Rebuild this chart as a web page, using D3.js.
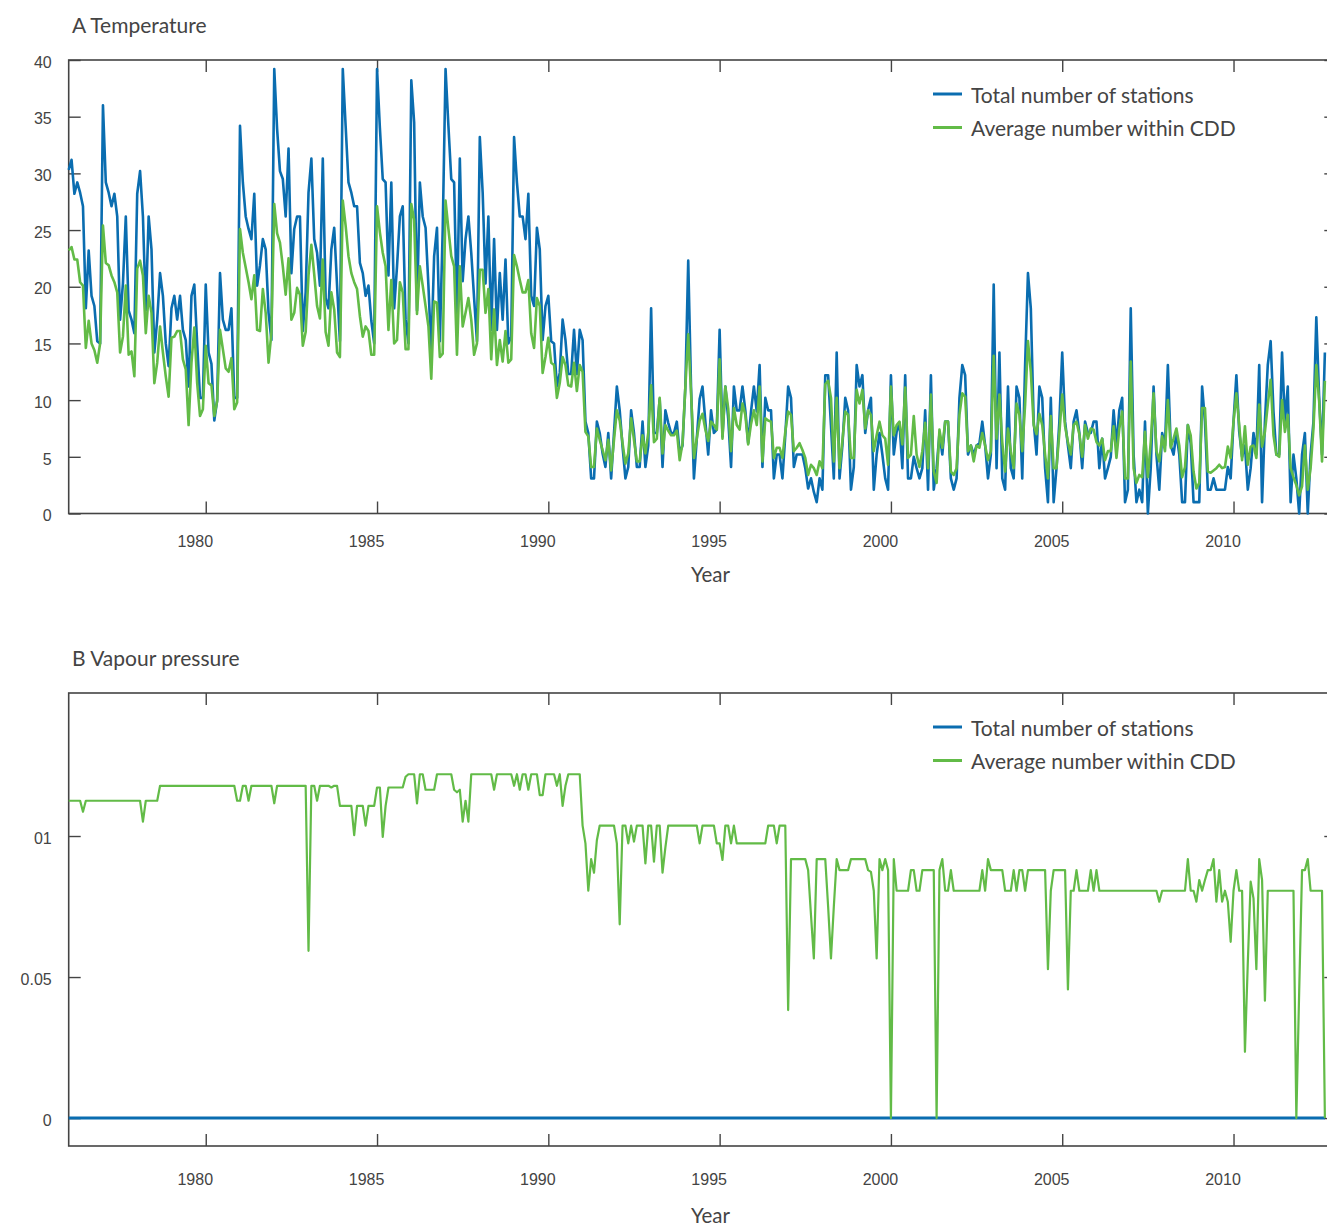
<!DOCTYPE html>
<html>
<head>
<meta charset="utf-8">
<script src="https://cdn.jsdelivr.net/npm/d3@7"></script>
<style>
  body { margin: 0; background: #fff; }
  svg { display: block; font-family: Lato, "Open Sans", sans-serif; }
  .tick text { font-size: 16px; fill: #444; }
  .panel-title, .legend-text { font-size: 21px; fill: #444; }
  .axis-label { font-size: 20.5px; fill: #444; }
</style>
</head>
<body>
<div id="chart"></div>
<script>
// Monthly values, starting January 1976
const firstYear = 1976;
const yearTicks = [1980, 1985, 1990, 1995, 2000, 2005, 2010];
const tempTicks = [0, 5, 10, 15, 20, 25, 30, 35, 40];
const tempTickLabels = ['0', '5', '10', '15', '20', '25', '30', '35', '40'];
const vapourTicks = [0, 0.05, 0.1];
const vapourTickLabels = ['0', '0.05', '01'];
const seriesNames = ['Total number of stations', 'Average number within CDD'];
const seriesColors = ['#0a6db0', '#62bb47'];

// A Temperature - one row per year
const tempStations = [
  30.3, 31.2, 28.2, 29.2, 28.3, 27.1, 18.1, 23.2, 19.2, 18.3, 15.2, 15.0,
  36.0, 29.2, 28.3, 27.1, 28.2, 26.2, 17.1, 20.3, 26.2, 17.9, 17.1, 15.9,
  28.2, 30.2, 26.2, 17.9, 26.2, 23.3, 14.2, 17.1, 21.2, 19.2, 15.0, 13.0,
  18.1, 19.2, 17.1, 19.2, 16.2, 15.3, 11.2, 19.2, 20.2, 15.0, 10.2, 10.2,
  20.2, 14.2, 13.2, 8.2, 10.0, 21.2, 17.1, 16.2, 16.2, 18.1, 10.2, 10.2,
  34.2, 29.2, 26.2, 25.1, 24.2, 28.2, 20.1, 21.9, 24.2, 23.3, 17.7, 15.3,
  39.2, 33.9, 30.2, 29.5, 26.2, 32.2, 21.2, 25.1, 26.2, 26.2, 16.1, 19.5,
  28.3, 31.3, 24.2, 23.0, 20.1, 31.3, 19.0, 18.1, 23.3, 25.2, 20.1, 15.2,
  39.2, 34.2, 29.2, 28.3, 27.1, 27.1, 22.1, 21.2, 19.2, 20.1, 17.0, 15.0,
  39.2, 34.0, 29.5, 29.2, 21.0, 29.2, 18.1, 21.8, 26.2, 27.1, 17.1, 15.0,
  38.2, 34.5, 17.9, 29.2, 26.2, 25.2, 20.1, 14.2, 22.7, 25.2, 15.2, 25.0,
  39.2, 34.2, 29.5, 29.2, 17.5, 31.3, 20.5, 24.2, 26.2, 23.0, 19.0, 15.2,
  33.2, 28.3, 20.3, 26.2, 16.2, 24.2, 16.2, 21.2, 17.1, 22.4, 15.0, 15.6,
  33.2, 29.2, 26.2, 26.2, 24.2, 28.2, 19.2, 18.3, 25.2, 23.3, 15.3, 18.3,
  19.2, 15.2, 15.0, 11.2, 12.4, 17.1, 15.3, 12.3, 12.3, 16.2, 12.3, 16.2,
  15.3, 8.1, 7.1, 3.1, 3.1, 8.1, 7.1, 5.3, 4.1, 7.1, 3.1, 7.1,
  11.2, 9.1, 5.9, 3.1, 4.1, 9.1, 7.1, 4.1, 4.1, 8.1, 4.1, 6.0,
  18.1, 7.1, 7.1, 10.1, 4.1, 9.1, 8.0, 7.1, 7.1, 8.1, 5.3, 6.0,
  11.2, 22.3, 11.0, 3.1, 6.6, 10.1, 11.2, 8.1, 5.2, 9.1, 7.1, 7.4,
  16.2, 6.8, 11.2, 8.4, 4.1, 11.2, 9.1, 9.1, 11.2, 9.1, 6.2, 9.0,
  11.2, 9.0, 13.1, 4.1, 10.2, 9.1, 9.1, 3.1, 5.2, 5.2, 3.1, 6.9,
  11.2, 10.2, 4.1, 5.2, 5.2, 5.2, 4.0, 2.2, 3.1, 1.9, 1.0, 3.1,
  2.1, 12.2, 12.2, 7.8, 3.1, 14.2, 3.1, 6.0, 10.2, 9.1, 2.1, 4.1,
  13.1, 11.2, 12.2, 7.1, 9.1, 10.2, 2.1, 5.2, 7.1, 5.2, 3.1, 2.1,
  12.2, 5.2, 7.2, 8.0, 4.0, 12.2, 3.1, 3.1, 5.0, 4.0, 3.1, 4.0,
  9.1, 2.1, 12.2, 2.1, 4.0, 7.1, 5.2, 8.1, 8.1, 3.1, 2.1, 3.1,
  10.2, 13.1, 12.2, 5.2, 6.0, 5.2, 6.0, 6.2, 8.1, 6.0, 3.1, 5.2,
  20.2, 4.0, 14.2, 3.1, 2.1, 11.2, 4.0, 3.1, 11.2, 10.2, 3.1, 13.1,
  21.2, 18.1, 8.1, 5.2, 11.2, 10.2, 4.0, 1.0, 10.2, 1.0, 4.0, 8.1,
  14.2, 8.1, 6.0, 4.0, 8.1, 9.1, 7.1, 4.0, 8.1, 7.1, 7.1, 8.1,
  8.1, 4.0, 6.6, 3.1, 4.0, 5.0, 9.1, 6.0, 9.1, 10.2, 1.0, 2.1,
  18.1, 5.2, 1.0, 2.1, 1.0, 8.1, 0.0, 4.0, 11.2, 5.2, 2.1, 7.1,
  6.0, 13.1, 6.0, 5.2, 7.1, 5.2, 1.0, 1.0, 7.8, 6.2, 1.0, 1.0,
  1.0, 11.2, 8.1, 2.1, 2.1, 3.1, 2.1, 2.1, 2.1, 2.1, 4.1, 3.1,
  8.1, 12.2, 7.2, 5.0, 6.0, 2.1, 4.0, 7.1, 5.2, 13.1, 1.0, 8.1,
  13.1, 15.2, 9.0, 5.2, 5.2, 14.2, 8.1, 11.2, 1.0, 5.2, 3.1, 0.0,
  5.2, 7.1, 0.0, 5.2, 8.1, 17.3, 10.2, 5.2, 14.2
];

const tempCdd = [
  23.2, 23.5, 22.4, 22.4, 20.4, 20.1, 14.6, 17.0, 15.0, 14.4, 13.3, 15.0,
  25.4, 22.1, 21.9, 21.0, 20.4, 19.5, 14.2, 15.6, 20.1, 14.0, 14.3, 12.1,
  21.6, 22.3, 21.0, 15.9, 19.2, 17.7, 11.5, 13.3, 16.5, 14.2, 12.1, 10.3,
  15.5, 15.6, 16.1, 16.1, 13.6, 12.7, 7.8, 13.3, 16.4, 11.5, 8.6, 9.2,
  14.8, 11.5, 11.3, 8.6, 9.9, 16.2, 14.5, 12.8, 12.5, 13.7, 9.2, 9.8,
  25.1, 23.0, 21.7, 20.4, 18.9, 21.0, 16.2, 16.1, 19.8, 17.7, 13.3, 15.9,
  27.3, 24.7, 23.9, 21.8, 19.3, 22.5, 17.1, 17.7, 19.9, 19.3, 14.8, 16.0,
  21.0, 23.7, 21.1, 18.3, 17.2, 22.4, 16.0, 14.8, 19.5, 18.0, 14.2, 13.8,
  27.6, 25.4, 22.7, 21.2, 20.4, 19.8, 17.4, 15.6, 16.5, 16.1, 14.0, 14.0,
  27.1, 24.8, 23.0, 21.8, 16.2, 20.6, 15.0, 15.3, 20.4, 19.5, 14.5, 14.5,
  27.3, 25.9, 17.6, 21.8, 20.1, 18.3, 16.5, 11.9, 18.7, 18.6, 13.8, 14.1,
  27.6, 25.1, 22.7, 21.8, 14.0, 21.8, 16.5, 17.7, 19.0, 17.1, 14.0, 15.0,
  21.5, 21.5, 17.7, 19.8, 13.6, 18.0, 13.1, 15.3, 13.4, 16.1, 13.3, 13.6,
  22.8, 21.8, 20.6, 19.5, 19.5, 20.6, 15.9, 14.6, 19.0, 18.3, 12.4, 13.8,
  15.5, 13.3, 13.1, 10.2, 11.5, 13.8, 13.1, 11.3, 11.2, 13.3, 10.8, 13.1,
  12.5, 7.2, 6.8, 4.1, 4.1, 7.5, 6.5, 5.6, 4.7, 6.5, 3.8, 6.5,
  9.1, 8.2, 6.2, 4.4, 5.3, 8.4, 6.5, 4.6, 4.6, 6.9, 5.3, 7.1,
  11.3, 6.3, 6.6, 10.2, 5.3, 7.8, 7.3, 6.9, 6.9, 7.3, 4.7, 6.2,
  11.2, 15.8, 10.6, 4.9, 6.6, 8.2, 8.8, 7.4, 6.4, 8.1, 7.8, 7.4,
  13.6, 6.6, 11.2, 9.3, 5.5, 9.3, 7.8, 7.4, 9.7, 8.7, 6.1, 7.9,
  9.1, 7.8, 11.2, 4.6, 8.4, 8.2, 8.1, 4.9, 5.8, 5.8, 4.9, 7.2,
  9.0, 8.7, 5.5, 5.8, 6.2, 5.6, 4.9, 3.4, 4.3, 4.0, 3.4, 4.6,
  4.0, 11.4, 11.7, 10.2, 4.6, 10.2, 4.0, 6.4, 9.0, 8.7, 4.9, 4.9,
  10.9, 9.7, 10.9, 7.5, 9.1, 8.7, 5.5, 6.9, 8.1, 6.9, 6.6, 4.3,
  11.2, 6.9, 7.8, 8.1, 6.1, 11.1, 4.9, 5.2, 8.6, 5.2, 4.1, 5.5,
  8.0, 4.0, 10.5, 3.7, 2.7, 7.4, 5.8, 8.1, 8.1, 3.7, 3.4, 4.0,
  8.7, 10.6, 10.3, 5.5, 6.0, 4.6, 6.0, 5.8, 7.1, 6.0, 4.7, 5.5,
  13.9, 6.6, 10.5, 6.3, 3.7, 7.5, 5.5, 4.0, 9.7, 8.7, 5.5, 9.6,
  15.2, 12.5, 7.8, 7.0, 8.8, 7.8, 5.2, 3.1, 8.6, 4.0, 4.0, 7.1,
  10.5, 7.7, 6.3, 5.2, 7.8, 8.1, 7.0, 5.0, 7.8, 6.6, 7.5, 7.4,
  6.3, 6.0, 6.6, 4.7, 5.5, 5.5, 7.7, 4.9, 7.5, 9.0, 3.1, 3.1,
  13.4, 4.0, 2.7, 3.4, 3.2, 7.2, 3.2, 6.3, 10.6, 5.5, 4.6, 6.8,
  5.5, 10.0, 5.8, 6.6, 7.5, 6.0, 3.2, 4.1, 7.8, 6.9, 3.7, 2.2,
  2.7, 9.3, 9.3, 3.7, 3.6, 3.8, 4.0, 4.3, 4.0, 4.1, 5.9, 4.9,
  8.1, 10.6, 7.8, 4.7, 7.7, 4.3, 5.9, 6.0, 4.9, 9.6, 5.9, 7.2,
  9.6, 11.8, 6.9, 5.2, 5.0, 10.0, 7.2, 8.7, 4.0, 3.2, 2.5, 1.6,
  2.4, 6.0, 2.1, 4.0, 7.5, 13.1, 9.9, 4.6, 11.7
];

// B Vapour pressure - [value, number of months it holds]
const vapourStationSteps = [[0, 441]];
const vapourCddSteps = [
  [0.1125, 5], [0.1086, 1], [0.1125, 20], [0.1051, 1], [0.1125, 5],
  [0.1178, 27], [0.1125, 2], [0.1178, 2], [0.1125, 1], [0.1178, 8], [0.1116, 1], [0.1178, 11],
  [0.0593, 1], [0.1178, 2], [0.1125, 1], [0.1178, 4], [0.1172, 1], [0.1178, 2],
  [0.1107, 5], [0.1003, 1], [0.1107, 3], [0.1037, 1], [0.1107, 3], [0.1172, 2], [0.0997, 1], [0.1107, 1], [0.1172, 6],
  [0.1210, 1], [0.1219, 3], [0.1116, 1], [0.1219, 2], [0.1164, 4], [0.1219, 6], [0.1164, 1], [0.1155, 1], [0.1164, 1],
  [0.1051, 1], [0.1125, 1], [0.1051, 1],
  [0.1219, 8], [0.1164, 1], [0.1219, 6], [0.1178, 1], [0.1219, 1], [0.1164, 1], [0.1219, 2], [0.1164, 1], [0.1219, 3],
  [0.1145, 2], [0.1219, 4], [0.1178, 1], [0.1219, 1], [0.1107, 1], [0.1178, 1], [0.1219, 5],
  [0.1037, 1], [0.0974, 1], [0.0806, 1], [0.0918, 1], [0.0870, 1], [0.0985, 1],
  [0.1037, 6], [0.0974, 1], [0.0687, 1], [0.1037, 2], [0.0974, 1], [0.1037, 1], [0.0980, 1], [0.1037, 3], [0.0903, 1],
  [0.1037, 2], [0.0909, 1], [0.1037, 2], [0.0870, 1], [0.0960, 1], [0.1037, 11],
  [0.0974, 1], [0.1037, 5], [0.0974, 2], [0.0915, 1], [0.1037, 2], [0.0974, 1], [0.1037, 1], [0.0974, 11], [0.1037, 3],
  [0.0974, 1], [0.1037, 3],
  [0.0383, 1], [0.0918, 6], [0.0879, 1], [0.0720, 1], [0.0566, 1], [0.0918, 4], [0.0750, 1], [0.0566, 1], [0.0750, 1],
  [0.0918, 1], [0.0879, 4], [0.0918, 6], [0.0879, 1], [0.0873, 1], [0.0806, 1], [0.0566, 1],
  [0.0918, 1], [0.0879, 1], [0.0918, 1], [0.0879, 1], [0, 1], [0.0918, 1], [0.0806, 5], [0.0879, 2], [0.0806, 2],
  [0.0879, 5], [0, 1], [0.0879, 1], [0.0918, 1], [0.0806, 2], [0.0879, 1], [0.0806, 10],
  [0.0879, 1], [0.0806, 1], [0.0918, 1], [0.0879, 5], [0.0806, 3], [0.0879, 1], [0.0806, 1], [0.0879, 2], [0.0806, 1],
  [0.0879, 7], [0.0528, 1], [0.0806, 1], [0.0879, 5], [0.0456, 1], [0.0806, 2], [0.0879, 1], [0.0806, 4], [0.0879, 1],
  [0.0806, 1], [0.0879, 1],
  [0.0806, 21], [0.0767, 1], [0.0806, 9], [0.0918, 1], [0.0806, 2], [0.0767, 1], [0.0844, 1], [0.0806, 1], [0.0844, 1],
  [0.0879, 2], [0.0918, 1], [0.0767, 1], [0.0879, 1], [0.0767, 1], [0.0806, 1], [0.0767, 1], [0.0625, 1], [0.0806, 1],
  [0.0879, 1], [0.0806, 2],
  [0.0235, 1], [0.0550, 1], [0.0838, 1], [0.0779, 1], [0.0528, 1], [0.0918, 1], [0.0844, 1], [0.0416, 1], [0.0806, 10],
  [0, 1], [0.0450, 1], [0.0879, 2], [0.0918, 1], [0.0806, 5], [0, 1]
];

const W = 1327, H = 1226;
const svg = d3.select('#chart').append('svg')
    .attr('width', W)
    .attr('height', H);

// Shared time axis (frame runs a little past the right edge of the picture)
const x = d3.scaleLinear()
    .domain([1976, 2013])
    .range([68.7, 1336.3]);

function expandSteps(steps) {
    const out = [];
    steps.forEach(([v, n]) => {
        for (let k = 0; k < n; k++) out.push(v);
    });
    return out;
}

function toPoints(values) {
    return values.map((v, i) => ({ t: firstYear + i / 12, v }));
}

function drawPanel(p) {
    const y = d3.scaleLinear()
        .domain(p.yDomain)
        .range([p.bottom, p.top]);

    const g = svg.append('g');
    const [x0, x1] = x.range();

    g.append('text')
        .attr('class', 'panel-title')
        .attr('x', 72)
        .attr('y', p.top - 27)
        .text(p.title);

    // bottom ticks + year labels
    g.append('g')
        .attr('color', '#444')
        .attr('transform', `translate(0,${p.bottom})`)
        .call(d3.axisBottom(x).tickValues(yearTicks).tickFormat(d3.format('d'))
            .tickSizeInner(-12).tickSizeOuter(0))
        .call(a => a.select('.domain').remove())
        .call(a => a.selectAll('line').attr('stroke-width', 1.4))
        .call(a => a.selectAll('text').attr('y', p.labelOffset).attr('dy', 0).attr('dx', -11));

    // top ticks
    g.append('g')
        .attr('color', '#444')
        .attr('transform', `translate(0,${p.top})`)
        .call(d3.axisTop(x).tickValues(yearTicks).tickFormat('')
            .tickSizeInner(-12).tickSizeOuter(0))
        .call(a => a.select('.domain').remove())
        .call(a => a.selectAll('line').attr('stroke-width', 1.4));

    // left ticks + value labels
    g.append('g')
        .attr('color', '#444')
        .attr('transform', `translate(${x0},0)`)
        .call(d3.axisLeft(y).tickValues(p.yTicks).tickFormat((d, i) => p.yLabels[i])
            .tickSizeInner(-12).tickSizeOuter(0).tickPadding(17))
        .call(a => a.select('.domain').remove())
        .call(a => a.selectAll('line').attr('stroke-width', 1.4))
        .call(a => a.selectAll('text').attr('dy', '0.45em'));

    // right ticks
    g.append('g')
        .attr('color', '#444')
        .attr('transform', `translate(${x1},0)`)
        .call(d3.axisRight(y).tickValues(p.yTicks).tickFormat('')
            .tickSizeInner(-12).tickSizeOuter(0))
        .call(a => a.select('.domain').remove())
        .call(a => a.selectAll('line').attr('stroke-width', 1.4));

    // frame
    g.append('rect')
        .attr('x', x0)
        .attr('y', p.top)
        .attr('width', x1 - x0)
        .attr('height', p.bottom - p.top)
        .attr('fill', 'none')
        .attr('stroke', '#444')
        .attr('stroke-width', 1.6);

    const line = d3.line()
        .x(d => x(d.t))
        .y(d => y(d.v));

    p.series.forEach((s, i) => {
        g.append('path')
            .datum(toPoints(s))
            .attr('fill', 'none')
            .attr('stroke', seriesColors[i])
            .attr('stroke-width', p.widths[i])
            .attr('stroke-linejoin', 'round')
            .attr('d', line);
    });

    // legend
    seriesNames.forEach((name, i) => {
        const ly = p.top + 34 + i * 33.5;
        g.append('line')
            .attr('x1', 933).attr('x2', 962)
            .attr('y1', ly).attr('y2', ly)
            .attr('stroke', seriesColors[i])
            .attr('stroke-width', 3);
        g.append('text')
            .attr('class', 'legend-text')
            .attr('x', 971)
            .attr('y', ly + 8.5)
            .text(name);
    });

    g.append('text')
        .attr('class', 'axis-label')
        .attr('x', 710.5)
        .attr('y', p.bottom + p.yearOffset)
        .attr('text-anchor', 'middle')
        .text('Year');
}

drawPanel({
    title: 'A Temperature',
    top: 60,
    bottom: 513.5,
    yDomain: [0, 40],
    yTicks: tempTicks,
    yLabels: tempTickLabels,
    labelOffset: 33,
    yearOffset: 68.5,
    series: [tempStations, tempCdd],
    widths: [2.6, 2.6]
});

drawPanel({
    title: 'B Vapour pressure',
    top: 693,
    bottom: 1146,
    yDomain: [-0.0099, 0.1507],
    yTicks: vapourTicks,
    yLabels: vapourTickLabels,
    labelOffset: 38.5,
    yearOffset: 77,
    series: [expandSteps(vapourStationSteps), expandSteps(vapourCddSteps)],
    widths: [3, 2.2]
});
</script>
</body>
</html>
